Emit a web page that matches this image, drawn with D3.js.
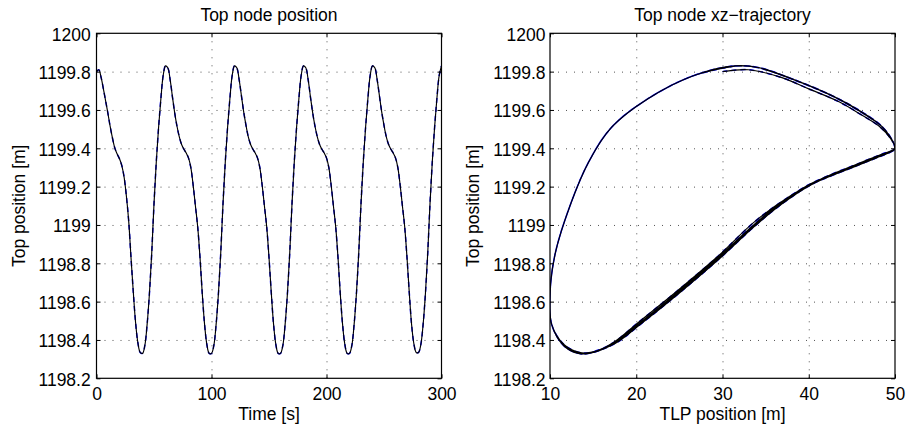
<!DOCTYPE html>
<html>
<head>
<meta charset="utf-8">
<script src="https://cdn.jsdelivr.net/npm/d3@7"></script>
<style>
  body { margin: 0; background: #fff; }
  svg { display: block; }
  text { font-family: "Liberation Sans", Arial, Helvetica, sans-serif; fill: #000; }
</style>
</head>
<body>
<svg id="chart" width="907" height="433"></svg>
<script>
// Sample times [s]
const time = [
  0, 2, 4, 6, 8, 10, 12, 14, 16, 18, 20, 22, 24, 26, 28, 30, 32, 34, 36, 38,
  40, 42, 44, 46, 48, 50, 52, 54, 56, 58, 60, 62, 64, 66, 68, 70, 72, 74, 76, 78,
  80, 82, 84, 86, 88, 90, 92, 94, 96, 98, 100, 102, 104, 106, 108, 110, 112, 114, 116, 118,
  120, 122, 124, 126, 128, 130, 132, 134, 136, 138, 140, 142, 144, 146, 148, 150, 152, 154, 156, 158,
  160, 162, 164, 166, 168, 170, 172, 174, 176, 178, 180, 182, 184, 186, 188, 190, 192, 194, 196, 198,
  200, 202, 204, 206, 208, 210, 212, 214, 216, 218, 220, 222, 224, 226, 228, 230, 232, 234, 236, 238,
  240, 242, 244, 246, 248, 250, 252, 254, 256, 258, 260, 262, 264, 266, 268, 270, 272, 274, 276, 278,
  280, 282, 284, 286, 288, 290, 292, 294, 296, 298, 300
];

// Vertical position of the top node [m]
const topPosition = [
  1199.80, 1199.81, 1199.77, 1199.71, 1199.645, 1199.58, 1199.51, 1199.45, 1199.40, 1199.37,
  1199.345, 1199.31, 1199.25, 1199.15, 1199.02, 1198.83, 1198.65, 1198.49, 1198.385, 1198.335,
  1198.33, 1198.37, 1198.48, 1198.64, 1198.85, 1199.11, 1199.33, 1199.51, 1199.66, 1199.78,
  1199.83, 1199.82, 1199.76, 1199.67, 1199.585, 1199.515, 1199.46, 1199.42, 1199.395, 1199.375,
  1199.35, 1199.30, 1199.21, 1199.10, 1198.99, 1198.83, 1198.64, 1198.48, 1198.375, 1198.33,
  1198.33, 1198.37, 1198.48, 1198.64, 1198.85, 1199.11, 1199.33, 1199.51, 1199.66, 1199.78,
  1199.83, 1199.82, 1199.76, 1199.675, 1199.59, 1199.52, 1199.46, 1199.42, 1199.395, 1199.375,
  1199.35, 1199.30, 1199.21, 1199.10, 1198.99, 1198.83, 1198.645, 1198.48, 1198.375, 1198.33,
  1198.33, 1198.37, 1198.48, 1198.64, 1198.85, 1199.11, 1199.33, 1199.51, 1199.66, 1199.78,
  1199.83, 1199.82, 1199.76, 1199.67, 1199.585, 1199.515, 1199.46, 1199.42, 1199.395, 1199.375,
  1199.35, 1199.30, 1199.21, 1199.10, 1198.99, 1198.83, 1198.64, 1198.48, 1198.375, 1198.33,
  1198.33, 1198.37, 1198.48, 1198.64, 1198.85, 1199.11, 1199.33, 1199.51, 1199.66, 1199.78,
  1199.83, 1199.82, 1199.76, 1199.675, 1199.59, 1199.52, 1199.46, 1199.42, 1199.395, 1199.375,
  1199.35, 1199.30, 1199.21, 1199.10, 1198.99, 1198.83, 1198.645, 1198.48, 1198.38, 1198.335,
  1198.335, 1198.375, 1198.48, 1198.64, 1198.85, 1199.11, 1199.33, 1199.51, 1199.66, 1199.78,
  1199.83
];

// Horizontal position of the TLP [m]
const tlpPosition = [
  30.0, 33.0, 36.8, 40.0, 43.4, 45.9, 48.3, 49.5, 50.0, 48.5,
  47.1, 45.2, 41.9, 37.8, 33.8, 29.3, 24.6, 20.2, 17.3, 15.0,
  13.3, 11.6, 10.2, 10.0, 10.6, 12.4, 14.5, 17.15, 21.4, 26.7,
  31.5, 34.2, 38.1, 42.85, 46.2, 48.45, 49.45, 49.9, 49.95, 48.95,
  47.55, 44.8, 40.0, 36.3, 33.35, 29.5, 24.55, 20.15, 17.0, 14.3,
  13.3, 11.6, 10.2, 10.0, 10.6, 12.4, 14.5, 17.15, 21.4, 26.7,
  31.5, 34.3, 38.2, 42.7, 46.15, 48.35, 49.45, 49.9, 49.95, 49.2,
  47.8, 45.05, 40.25, 36.55, 33.6, 29.75, 24.95, 20.4, 17.25, 14.5,
  13.3, 11.6, 10.2, 10.0, 10.6, 12.4, 14.5, 17.15, 21.4, 26.7,
  31.5, 34.2, 38.1, 42.85, 46.2, 48.45, 49.45, 49.9, 49.95, 49.05,
  47.65, 44.9, 40.1, 36.4, 33.45, 29.6, 24.65, 20.25, 17.1, 14.35,
  13.3, 11.6, 10.2, 10.0, 10.6, 12.4, 14.5, 17.15, 21.4, 26.7,
  31.5, 34.3, 38.2, 42.7, 46.15, 48.35, 49.45, 49.9, 49.95, 49.25,
  47.85, 45.1, 40.3, 36.6, 33.65, 29.8, 25.0, 20.45, 17.5, 14.7,
  13.4, 11.65, 10.2, 10.0, 10.6, 12.4, 14.5, 17.15, 21.4, 26.7,
  31.5
];

// Axis ticks and their labels
const timeTicks = [0, 100, 200, 300];
const timeTickLabels = ["0", "100", "200", "300"];
const tlpTicks = [10, 20, 30, 40, 50];
const tlpTickLabels = ["10", "20", "30", "40", "50"];
const topTicks = [1198.2, 1198.4, 1198.6, 1198.8, 1199, 1199.2, 1199.4, 1199.6, 1199.8, 1200];
const topTickLabels = ["1198.2", "1198.4", "1198.6", "1198.8", "1199", "1199.2", "1199.4", "1199.6", "1199.8", "1200"];

const FONT = 17.5;
const plotTop = 33.3, plotBottom = 378.3;
const yDomain = [1198.2, 1200];

const svg = d3.select("#chart");

const panels = [
  {
    id: "p1", left: 96.5, right: 441.5, xDomain: [0, 300],
    xTicks: timeTicks, xTickLabels: timeTickLabels,
    title: "Top node position", xTitle: "Time [s]", yTitleX: 25,
    xs: time, yLabelPad: 5.8
  },
  {
    id: "p2", left: 550, right: 895, xDomain: [10, 50],
    xTicks: tlpTicks, xTickLabels: tlpTickLabels,
    title: "Top node xz\u2212trajectory", xTitle: "TLP position [m]", yTitleX: 479,
    xs: tlpPosition, yLabelPad: 4.5
  }
];

panels.forEach(p => {
  const x = d3.scaleLinear(p.xDomain, [p.left, p.right]);
  const y = d3.scaleLinear(yDomain, [plotBottom, plotTop]);
  const w = p.right - p.left, h = plotBottom - plotTop;
  const g = svg.append("g");

  g.append("clipPath").attr("id", "clip-" + p.id)
    .append("rect").attr("x", p.left).attr("y", plotTop).attr("width", w).attr("height", h);

  // dotted grid
  const styleGrid = s => {
    s.select(".domain").remove();
    s.selectAll(".tick line")
      .attr("stroke", "#555").attr("stroke-width", 1).attr("stroke-dasharray", "1,7");
  };
  g.append("g").attr("transform", `translate(0,${plotBottom})`)
    .call(d3.axisBottom(x).tickValues(p.xTicks.slice(1, -1)).tickSize(-h).tickFormat(""))
    .call(styleGrid);
  g.append("g").attr("transform", `translate(${p.left},0)`)
    .call(d3.axisLeft(y).tickValues(topTicks.slice(1, -1)).tickSize(-w).tickFormat(""))
    .call(styleGrid);

  // series: dashed blue underneath, solid black on top
  const pts = d3.zip(p.xs, topPosition);
  const line = d3.line().x(d => x(d[0])).y(d => y(d[1])).curve(d3.curveCatmullRom.alpha(0.5));
  g.append("path").datum(pts).attr("d", line)
    .attr("clip-path", `url(#clip-${p.id})`)
    .attr("fill", "none").attr("stroke", "#0000ff").attr("stroke-width", 1.5)
    .attr("stroke-dasharray", "5,4");
  g.append("path").datum(pts).attr("d", line)
    .attr("clip-path", `url(#clip-${p.id})`)
    .attr("fill", "none").attr("stroke", "#000").attr("stroke-width", 1.15);

  // axes: inward ticks on all four sides
  const styleAxis = s => {
    s.select(".domain").remove();
    s.selectAll(".tick line").attr("stroke", "#000").attr("stroke-width", 1);
    s.attr("font-family", null).attr("font-size", null);
    s.selectAll("text").style("font-size", FONT + "px").attr("fill", "#000");
  };
  g.append("g").attr("transform", `translate(0,${plotBottom})`)
    .call(d3.axisBottom(x).tickValues(p.xTicks).tickSize(-4).tickPadding(9.6)
      .tickFormat((d, i) => p.xTickLabels[i]))
    .call(styleAxis);
  g.append("g").attr("transform", `translate(0,${plotTop})`)
    .call(d3.axisTop(x).tickValues(p.xTicks).tickSize(-4).tickFormat(""))
    .call(styleAxis);
  g.append("g").attr("transform", `translate(${p.left},0)`)
    .call(d3.axisLeft(y).tickValues(topTicks).tickSize(-4).tickPadding(p.yLabelPad)
      .tickFormat((d, i) => topTickLabels[i]))
    .call(styleAxis)
    .call(s => s.selectAll("text").attr("dy", "0.4em"));
  g.append("g").attr("transform", `translate(${p.right},0)`)
    .call(d3.axisRight(y).tickValues(topTicks).tickSize(-4).tickFormat(""))
    .call(styleAxis);

  // frame
  g.append("rect").attr("x", p.left).attr("y", plotTop).attr("width", w).attr("height", h)
    .attr("fill", "none").attr("stroke", "#000").attr("stroke-width", 1.2);

  // titles
  const cx = (p.left + p.right) / 2;
  g.append("text").attr("x", cx).attr("y", 20.5).attr("text-anchor", "middle")
    .style("font-size", FONT + "px").text(p.title);
  g.append("text").attr("x", cx).attr("y", 419.5).attr("text-anchor", "middle")
    .style("font-size", FONT + "px").text(p.xTitle);
  g.append("text").attr("transform", `translate(${p.yTitleX},${(plotTop + plotBottom) / 2}) rotate(-90)`)
    .attr("text-anchor", "middle").style("font-size", FONT + "px").text("Top position [m]");
});
</script>
</body>
</html>
